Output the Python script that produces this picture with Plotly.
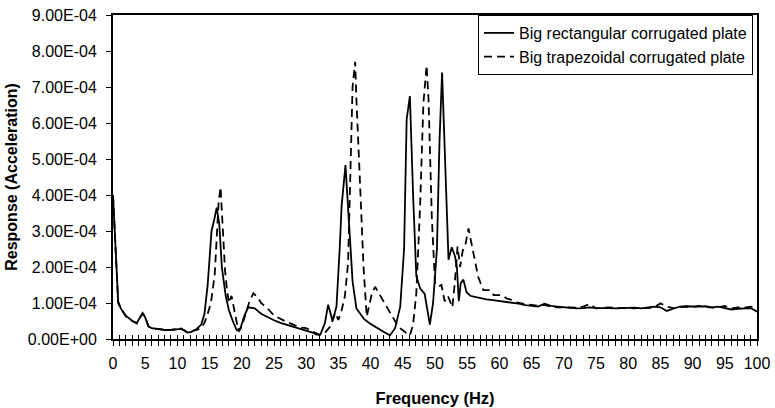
import plotly.graph_objects as go

# ---- data (response values in units of 1e-4) ----
freq_rect = [0, 0.4, 0.8, 1.2, 2, 3, 3.7, 4.2, 4.6, 5.0, 5.5, 6, 7, 8, 9, 10, 10.5, 11, 11.6, 12.2,
             13, 13.7, 14.2, 14.7, 15.0, 15.3, 15.7, 16.1, 16.5, 16.9, 17.5, 18, 18.6, 19.2, 19.8,
             20.4, 21, 22, 23, 24, 25, 26, 27, 28, 29, 30, 31, 31.6, 32.2, 32.9, 33.4, 34.1, 34.7,
             35.2, 35.5, 36.1, 36.8, 37.2, 37.8, 38.4, 39, 40, 41, 42, 43, 43.8, 44.6, 45.2, 45.6,
             46.1, 46.6, 47.1, 47.7, 48.4, 49.2, 49.7, 50.3, 50.7, 51.1, 51.6, 52.1, 52.6, 53.1,
             53.4, 53.7, 54.0, 54.4, 54.9, 55.5, 56, 57, 58, 59, 60, 61, 62, 63, 64, 65, 66, 67,
             68, 69, 70, 71, 72, 73, 74, 75, 76, 77, 78, 79, 80, 81, 82, 83, 84, 85, 86, 87, 88,
             89, 90, 91, 92, 93, 94, 95, 96, 97, 98, 99, 100]
resp_rect_e4 = [4.0, 2.3, 1.05, 0.85, 0.65, 0.5, 0.45, 0.6, 0.72, 0.6, 0.35, 0.3, 0.27, 0.25, 0.25,
                0.27, 0.28, 0.25, 0.18, 0.2, 0.28, 0.4, 0.7, 1.5, 2.2, 3.0, 3.3, 3.65, 3.2, 2.0,
                1.2, 0.8, 0.5, 0.25, 0.3, 0.65, 0.88, 0.85, 0.7, 0.6, 0.52, 0.45, 0.4, 0.35, 0.3,
                0.25, 0.18, 0.12, 0.12, 0.44, 0.95, 0.5, 0.9, 2.5, 3.7, 4.83, 2.8, 1.6, 0.85, 0.7,
                0.55, 0.42, 0.3, 0.2, 0.1, 0.3, 0.9, 2.5, 6.1, 6.75, 4.0, 1.75, 1.4, 1.25, 0.4,
                1.0, 2.5, 5.5, 7.4, 4.5, 2.2, 2.55, 2.3, 2.0, 1.05, 1.55, 1.65, 1.3, 1.2, 1.18,
                1.13, 1.1, 1.08, 1.06, 1.04, 1.02, 0.98, 0.94, 0.92, 0.9, 0.98, 0.92, 0.9, 0.88,
                0.86, 0.85, 0.86, 0.88, 0.86, 0.87, 0.86, 0.85, 0.86, 0.86, 0.87, 0.85, 0.88, 0.9,
                0.88, 0.78, 0.84, 0.9, 0.91, 0.9, 0.9, 0.91, 0.88, 0.9, 0.86, 0.82, 0.84, 0.86,
                0.86, 0.76]

freq_trap = [0, 0.4, 0.8, 1.2, 2, 3, 3.7, 4.2, 4.6, 5.0, 5.5, 6, 7, 8, 9, 10, 10.5, 11, 11.6, 12.2,
             13, 13.7, 14.2, 14.7, 15.2, 15.8, 16.1, 16.4, 16.7, 16.9, 17.1, 17.4, 17.7, 18.0,
             18.4, 18.9, 19.5, 20, 20.6, 21.2, 21.8, 22.5, 23, 24, 25, 26, 27, 28, 29, 30, 31, 32,
             32.8, 33.7, 34.5, 35.0, 35.5, 36.0, 36.5, 36.8, 37.2, 37.6, 37.8, 38.4, 38.9, 39.4,
             40.2, 40.7, 41.7, 43, 44.3, 45.3, 46.1, 46.6, 47.1, 47.7, 48.2, 48.7, 49.0, 49.5,
             50.0, 50.5, 51.0, 51.5, 52.0, 52.7, 53.1, 53.5, 53.9, 54.3, 54.7, 55.2, 56, 56.7,
             57.5, 58.5, 59.1, 60.3, 61.1, 62, 63, 64, 65, 66, 67, 68, 69, 70, 71, 72, 73, 74, 75,
             76, 77, 78, 79, 80, 81, 82, 83, 84, 85, 86, 87, 88, 89, 90, 91, 92, 93, 94, 95, 96,
             97, 98, 99, 100]
resp_trap_e4 = [4.0, 2.3, 1.0, 0.85, 0.62, 0.5, 0.43, 0.6, 0.7, 0.62, 0.35, 0.3, 0.27, 0.26, 0.25,
                0.28, 0.3, 0.24, 0.17, 0.22, 0.25, 0.3, 0.45, 0.7, 1.0, 1.8, 2.75, 3.8, 4.22, 3.6,
                2.75, 1.9, 1.36, 1.0, 1.2, 0.7, 0.2, 0.35, 0.7, 1.05, 1.27, 1.15, 1.0, 0.85, 0.65,
                0.55, 0.47, 0.4, 0.32, 0.3, 0.22, 0.12, 0.15, 0.34, 0.72, 0.53, 0.8, 1.18, 2.1,
                4.33, 7.0, 7.7, 6.64, 4.14, 2.0, 0.62, 1.27, 1.45, 1.13, 0.72, 0.34, 0.2, 0.1, 0.4,
                1.27, 3.77, 6.55, 7.6, 6.64, 3.4, 1.55, 1.45, 1.5, 1.05, 1.2, 0.88, 1.6, 2.57, 2.0,
                2.45, 2.6, 3.07, 2.38, 1.73, 1.36, 1.36, 1.22, 1.22, 1.13, 1.08, 1.0, 0.97, 0.93,
                0.92, 0.95, 0.9, 0.88, 0.87, 0.86, 0.87, 0.9, 0.97, 0.85, 0.86, 0.88, 0.86, 0.87,
                0.86, 0.85, 0.87, 0.86, 0.88, 0.99, 0.9, 0.86, 0.88, 0.9, 0.89, 0.92, 0.9, 0.87,
                0.88, 0.92, 0.85, 0.88, 0.87, 0.9, 0.88]

series_names = ["Big rectangular corrugated plate", "Big trapezoidal corrugated plate"]

y_tick_vals_e4 = [0, 1, 2, 3, 4, 5, 6, 7, 8, 9]
y_tick_labels = ["0.00E+00", "1.00E-04", "2.00E-04", "3.00E-04", "4.00E-04",
                 "5.00E-04", "6.00E-04", "7.00E-04", "8.00E-04", "9.00E-04"]
x_tick_vals = list(range(0, 101))
x_tick_labels = [str(v) if v % 5 == 0 else "" for v in x_tick_vals]

SCALE = 1e-4
FONT = "Liberation Sans, Arial, sans-serif"

fig = go.Figure()
fig.add_trace(go.Scatter(x=freq_rect, y=[v * SCALE for v in resp_rect_e4], mode="lines",
                         name=series_names[0], line=dict(color="black", width=1.8)))
fig.add_trace(go.Scatter(x=freq_trap, y=[v * SCALE for v in resp_trap_e4], mode="lines",
                         name=series_names[1],
                         line=dict(color="black", width=1.8, dash="8px,5px")))
# empty trace to carry the inside (crossing) tick marks axis
fig.add_trace(go.Scatter(x=[], y=[], xaxis="x2", showlegend=False, hoverinfo="skip"))

fig.update_layout(
    width=775, height=408,
    margin=dict(l=113, r=18, t=15, b=69, autoexpand=False),
    paper_bgcolor="white", plot_bgcolor="white",
    font=dict(family=FONT, color="black", size=16),
    showlegend=True,
    legend=dict(x=0.9938, xanchor="right", y=1.0, yanchor="top",
                bgcolor="white", bordercolor="black", borderwidth=1,
                font=dict(family=FONT, size=16, color="black"),
                tracegroupgap=0, itemwidth=30),
    xaxis=dict(range=[0, 100], tickmode="array", tickvals=x_tick_vals, ticktext=x_tick_labels,
               ticks="outside", ticklen=5, tickwidth=1, tickcolor="black",
               showline=True, linecolor="black", linewidth=2, mirror=True,
               showgrid=False, zeroline=False, ticklabelstandoff=4, automargin=False,
               tickfont=dict(family=FONT, size=16),
               title=dict(text="<b>Frequency (Hz)</b>", standoff=21,
                          font=dict(family=FONT, size=16.5))),
    xaxis2=dict(range=[0, 100], overlaying="x", anchor="y", side="bottom",
                tickmode="array", tickvals=x_tick_vals, ticks="inside", ticklen=4,
                tickwidth=1, tickcolor="black", showticklabels=False, showline=False,
                showgrid=False, zeroline=False, automargin=False),
    yaxis=dict(range=[0, 9 * SCALE], tickmode="array",
               tickvals=[v * SCALE for v in y_tick_vals_e4], ticktext=y_tick_labels,
               ticks="outside", ticklen=5, tickwidth=1, tickcolor="black",
               showline=True, linecolor="black", linewidth=2, mirror=True,
               showgrid=False, zeroline=False, ticklabelstandoff=6, automargin=False,
               tickfont=dict(family=FONT, size=16),
               title=dict(text="<b>Response (Acceleration)</b>", standoff=6,
                          font=dict(family=FONT, size=16))),
)

fig.write_html("out.html")
